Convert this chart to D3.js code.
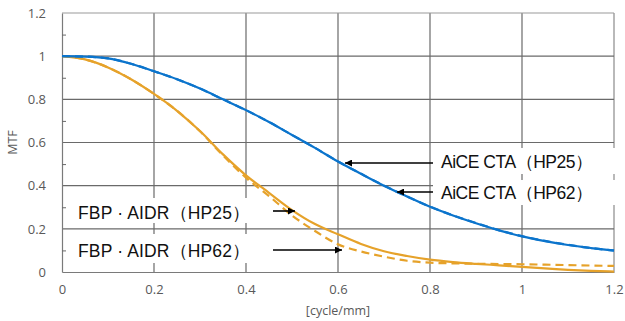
<!DOCTYPE html>
<html>
<head>
<meta charset="utf-8">
<script src="https://cdn.jsdelivr.net/npm/d3@7"></script>
<style>
  html, body { margin: 0; padding: 0; background: #fff; }
  svg { display: block; }
</style>
</head>
<body>
<svg id="chart" width="625" height="321"></svg>
<script>
// ---- data ----
const freq = [0, 0.05, 0.1, 0.15, 0.2, 0.25, 0.3, 0.35, 0.4, 0.45, 0.5, 0.55, 0.6,
              0.65, 0.7, 0.75, 0.8, 0.85, 0.9, 0.95, 1.0, 1.05, 1.1, 1.15, 1.2];
const aiceHP25 = [1.0, 0.998, 0.99, 0.965, 0.93, 0.893, 0.85, 0.80, 0.75, 0.695, 0.635, 0.575, 0.512,
                  0.455, 0.40, 0.35, 0.302, 0.262, 0.226, 0.193, 0.165, 0.143, 0.125, 0.111, 0.099];
const aiceHP62 = [1.0, 0.998, 0.99, 0.965, 0.93, 0.893, 0.85, 0.80, 0.75, 0.695, 0.635, 0.575, 0.512,
                  0.455, 0.40, 0.35, 0.303, 0.262, 0.227, 0.194, 0.166, 0.144, 0.126, 0.111, 0.100];
const fbpHP25  = [1.0, 0.985, 0.948, 0.893, 0.825, 0.747, 0.653, 0.545, 0.448, 0.367, 0.287, 0.222, 0.175,
                  0.13, 0.096, 0.074, 0.057, 0.046, 0.038, 0.031, 0.024, 0.017, 0.010, 0.005, 0.002];
const fbpHP62  = [1.0, 0.985, 0.948, 0.893, 0.825, 0.747, 0.652, 0.54, 0.437, 0.352, 0.262, 0.19, 0.128,
                  0.095, 0.071, 0.052, 0.043, 0.04, 0.038, 0.037, 0.036, 0.034, 0.032, 0.030, 0.028];
const xTicks = [0, 0.2, 0.4, 0.6, 0.8, 1.0, 1.2];
const xTickLabels = ["0", "0.2", "0.4", "0.6", "0.8", "1", "1.2"];
const yTicks = [0, 0.2, 0.4, 0.6, 0.8, 1.0, 1.2];
const yTickLabels = ["0", "0.2", "0.4", "0.6", "0.8", "1", "1.2"];
const yMinorTicks = [0.1, 0.3, 0.5, 0.7, 0.9, 1.1];
const seriesNames = ["AiCE CTA（HP25）", "AiCE CTA（HP62）", "FBP · AIDR（HP25）", "FBP · AIDR（HP62）"];
const xTitle = "[cycle/mm]";
const yTitle = "MTF";

// ---- layout ----
const svg = d3.select("#chart");
const x = d3.scaleLinear().domain([0, 1.2]).range([62, 614]);
const y = d3.scaleLinear().domain([0, 1.2]).range([272, 13]);
const BLUE = "#0B74CC", ORANGE = "#E6A22A", GRID = "#6a6a6a", TXT = "#595959";
const font = "'Liberation Sans', Arial, sans-serif";
const tickFont = "'Open Sans', sans-serif";

// defs: arrow marker
svg.append("defs").append("marker")
  .attr("id", "arrow").attr("viewBox", "0 0 10 10")
  .attr("refX", 10).attr("refY", 5)
  .attr("markerWidth", 9).attr("markerHeight", 7)
  .attr("markerUnits", "userSpaceOnUse")
  .attr("orient", "auto")
  .append("path").attr("d", "M0,0 L10,5 L0,10 Z").attr("fill", "#000");

// grid
const grid = svg.append("g");
grid.selectAll("line.v").data(xTicks.slice(1)).join("line")
  .attr("x1", d => x(d)).attr("x2", d => x(d))
  .attr("y1", y(1.2)).attr("y2", y(0))
  .attr("stroke", d => d === 1.2 ? "#8a8a8a" : GRID).attr("stroke-width", 1.2);
grid.selectAll("line.h").data(yTicks.slice(1)).join("line")
  .attr("x1", x(0)).attr("x2", x(1.2))
  .attr("y1", d => y(d)).attr("y2", d => y(d))
  .attr("stroke", d => d === 1.2 ? "#9a9a9a" : GRID).attr("stroke-width", 1.2);

// axes
const yAxis = svg.append("g").attr("transform", `translate(${x(0)},0)`)
  .call(d3.axisLeft(y).tickValues(yTicks).tickSize(0).tickPadding(16)
        .tickFormat((d, i) => yTickLabels[i]));
const yMinor = svg.append("g").attr("transform", `translate(${x(0)},0)`)
  .call(d3.axisLeft(y).tickValues(yMinorTicks).tickSize(-4).tickFormat(""));
yMinor.select(".domain").remove();
yMinor.selectAll("line").attr("stroke", "#6a6a6a");
const xAxis = svg.append("g").attr("transform", `translate(0,${y(0)})`)
  .call(d3.axisBottom(x).tickValues(xTicks).tickSize(0).tickPadding(13)
        .tickFormat((d, i) => xTickLabels[i]));
[yAxis, xAxis].forEach(g => {
  g.attr("font-size", null).attr("font-family", null);
  g.select(".domain").attr("stroke", "#7a7a7a").attr("stroke-width", 1.2);
  g.selectAll("text").attr("fill", TXT).style("font-family", tickFont).style("font-size", "13px");
});

svg.append("text").attr("x", x(0.6)).attr("y", 315).attr("text-anchor", "middle")
  .attr("fill", TXT).style("font-family", tickFont).style("font-size", "12.5px").text(xTitle);
svg.append("text").attr("transform", `translate(17,${y(0.6)}) rotate(-90)`).attr("text-anchor", "middle")
  .attr("fill", TXT).style("font-family", tickFont).style("font-size", "12.5px").text(yTitle);

// label boxes (white, cover gridlines)
const boxes = [
  {x0: 433, x1: 622, y0: 148, y1: 174},
  {x0: 433, x1: 622, y0: 180, y1: 205},
  {x0: 68, x1: 266, y0: 198, y1: 223},
  {x0: 68, x1: 266, y0: 234, y1: 263}
];
svg.append("g").selectAll("rect").data(boxes).join("rect")
  .attr("x", d => d.x0).attr("y", d => d.y0)
  .attr("width", d => d.x1 - d.x0).attr("height", d => d.y1 - d.y0)
  .attr("fill", "#fff");

// curves
const line = d3.line().curve(d3.curveMonotoneX);
const series = [
  {vals: fbpHP62, color: ORANGE, dash: "8,5"},
  {vals: fbpHP25, color: ORANGE, dash: null},
  {vals: aiceHP62, color: BLUE, dash: "8,5"},
  {vals: aiceHP25, color: BLUE, dash: null}
];
svg.append("g").selectAll("path").data(series).join("path")
  .attr("d", s => line(freq.map((f, i) => [x(f), y(s.vals[i])])))
  .attr("fill", "none").attr("stroke", s => s.color).attr("stroke-width", 2.2)
  .attr("stroke-dasharray", s => s.dash);

// annotations: label text + arrows
const labelPos = [
  {tx: 441, ty: 168, w: 152, ax1: 433, ay: 163, ax2: 345},
  {tx: 441, ty: 199, w: 152, ax1: 433, ay: 192, ax2: 397},
  {tx: 78, ty: 219, w: 172, ax1: 273, ay: 211, ax2: 295},
  {tx: 78, ty: 257, w: 172, ax1: 273, ay: 250, ax2: 342}
];
const ann = svg.append("g");
ann.selectAll("line").data(labelPos).join("line")
  .attr("x1", d => d.ax1).attr("x2", d => d.ax2)
  .attr("y1", d => d.ay).attr("y2", d => d.ay)
  .attr("stroke", "#000").attr("stroke-width", 1.6)
  .attr("marker-end", "url(#arrow)");
ann.selectAll("text").data(labelPos).join("text")
  .attr("x", d => d.tx).attr("y", d => d.ty)
  .attr("textLength", d => d.w).attr("lengthAdjust", "spacing")
  .attr("fill", "#111").style("font-family", font).style("font-size", "17.5px")
  .text((d, i) => seriesNames[i]);
</script>
</body>
</html>
